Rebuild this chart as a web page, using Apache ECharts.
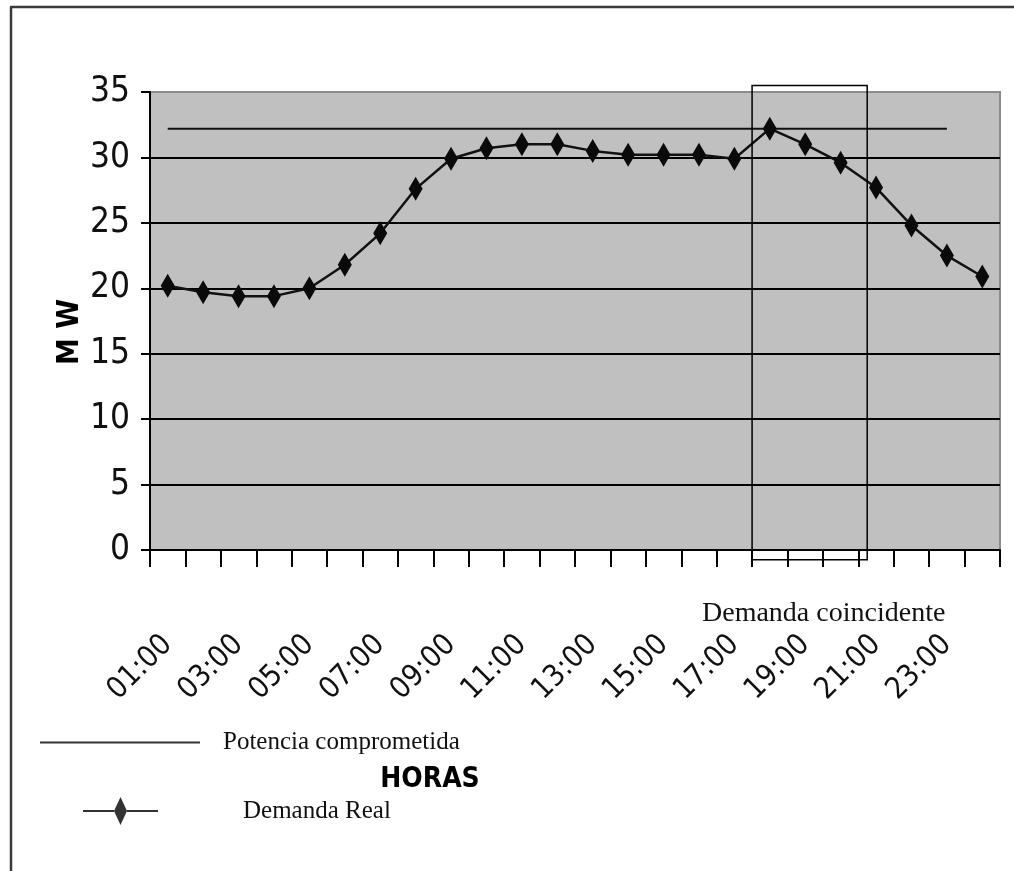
<!DOCTYPE html>
<html>
<head>
<meta charset="utf-8">
<script src="https://cdn.jsdelivr.net/npm/echarts@6/dist/echarts.min.js"></script>
<style>
  html, body { margin: 0; padding: 0; background: #fff; }
  #chart { width: 1014px; height: 871px; }
</style>
</head>
<body>
<div id="chart"></div>
<script>
// Hourly demand (MW) against the contracted power
const horas = ['01:00','02:00','03:00','04:00','05:00','06:00','07:00','08:00','09:00','10:00','11:00','12:00',
               '13:00','14:00','15:00','16:00','17:00','18:00','19:00','20:00','21:00','22:00','23:00','24:00'];
const demandaReal = [20.2, 19.7, 19.4, 19.4, 20.0, 21.8, 24.2, 27.6, 29.9, 30.7, 31.0, 31.0,
                     30.5, 30.2, 30.2, 30.2, 29.9, 32.2, 31.0, 29.6, 27.7, 24.8, 22.5, 20.9];
const potenciaComprometida = [32.2, 32.2, 32.2, 32.2, 32.2, 32.2, 32.2, 32.2, 32.2, 32.2, 32.2, 32.2,
                              32.2, 32.2, 32.2, 32.2, 32.2, 32.2, 32.2, 32.2, 32.2, 32.2, 32.2, null];
const yTicks = [0, 5, 10, 15, 20, 25, 30, 35];
// coincident-demand window: from 18:00 to 21:00
const ventanaInicio = 17, ventanaFin = 20;

const SANS = "'DejaVu Sans Condensed', 'DejaVu Sans', 'Liberation Sans', sans-serif";
const SERIF = "'Liberation Serif', 'Times New Roman', serif";

const chart = echarts.init(document.getElementById('chart'), null, { renderer: 'canvas' });

chart.setOption({
  animation: false,
  backgroundColor: '#ffffff',
  grid: {
    left: 150, right: 14, top: 92, bottom: 321,
    show: true, backgroundColor: '#c0c0c0', borderColor: '#8c8c8c', borderWidth: 2
  },
  legend: [
    {
      data: [{ name: 'Potencia comprometida', icon: 'rect' }],
      left: 40, top: 730, padding: 0, itemWidth: 160, itemHeight: 2,
      itemStyle: { color: '#333' },
      textStyle: { fontFamily: SERIF, fontSize: 25, color: '#111', padding: [0, 0, 0, 18] }
    },
    {
      data: [{
        name: 'Demanda Real',
        icon: 'path://M0,13 L31,13 L31,15 L0,15 Z M31,14 L37.5,0 L44,14 L37.5,28 Z M44,13 L75,13 L75,15 L44,15 Z'
      }],
      left: 83, top: 797, padding: 0, itemWidth: 75, itemHeight: 28,
      itemStyle: { color: '#333' },
      textStyle: { fontFamily: SERIF, fontSize: 25, color: '#111', padding: [0, 0, 0, 80] }
    }
  ],
  xAxis: {
    type: 'category',
    data: horas,
    boundaryGap: true,
    name: 'HORAS',
    nameLocation: 'middle',
    nameGap: 216,
    nameMoveOverlap: false,
    nameTextStyle: { fontFamily: SANS, fontWeight: 'bold', fontSize: 28, color: '#000', padding: [0, 290, 0, 0] },
    axisLine: { lineStyle: { color: '#000', width: 2 } },
    axisTick: { show: true, interval: 0, length: 17, lineStyle: { color: '#000', width: 2 } },
    axisLabel: {
      interval: 1, rotate: 45, margin: 90,
      fontFamily: SANS, fontSize: 30, color: '#111'
    },
    splitLine: { show: false }
  },
  yAxis: {
    type: 'value',
    min: yTicks[0], max: yTicks[yTicks.length - 1], interval: 5,
    name: 'M W',
    nameLocation: 'middle',
    nameRotate: 90,
    nameGap: 65,
    nameMoveOverlap: false,
    nameTextStyle: { fontFamily: SANS, fontWeight: 'bold', fontSize: 30, color: '#000', padding: [0, 22, 0, 0] },
    axisLine: { show: true, lineStyle: { color: '#000', width: 2 } },
    axisTick: { show: true, length: 9, lineStyle: { color: '#000', width: 2 } },
    axisLabel: { margin: 20, fontFamily: SANS, fontSize: 35, color: '#111' },
    splitLine: {
      show: true,
      lineStyle: { color: ['#000', '#000', '#000', '#000', '#000', '#000', '#000', '#8c8c8c'], width: 2 }
    }
  },
  series: [
    {
      name: 'Potencia comprometida',
      type: 'line',
      data: potenciaComprometida,
      showSymbol: false,
      symbol: 'none',
      lineStyle: { color: '#111', width: 2 },
      itemStyle: { color: '#333' },
      z: 3
    },
    {
      name: 'Demanda Real',
      type: 'line',
      data: demandaReal,
      symbol: 'diamond',
      symbolSize: [14, 24],
      showAllSymbol: true,
      lineStyle: { color: '#111', width: 2.5 },
      itemStyle: { color: '#0a0a0a' },
      z: 4
    }
  ]
});

// Coincident-demand box, placed through the axes
const p0 = chart.convertToPixel({ xAxisIndex: 0 }, 0);
const p1 = chart.convertToPixel({ xAxisIndex: 0 }, 1);
const banda = p1 - p0;
const xIzq = chart.convertToPixel({ xAxisIndex: 0 }, ventanaInicio) - banda / 2;
const xDer = chart.convertToPixel({ xAxisIndex: 0 }, ventanaFin) - banda * 0.25;
const yArr = chart.convertToPixel({ yAxisIndex: 0 }, 35.5);
const yAba = chart.convertToPixel({ yAxisIndex: 0 }, -0.75);

chart.setOption({
  graphic: [
    {
      type: 'rect', z: 10, silent: true,
      shape: { x: xIzq, y: yArr, width: xDer - xIzq, height: yAba - yArr },
      style: { fill: null, stroke: '#000', lineWidth: 1.5 }
    },
    {
      type: 'text', z: 10, left: 702, top: 600,
      style: { text: 'Demanda coincidente', font: '28px ' + SERIF, fill: '#111' }
    },
    // page frame (top and left edges)
    {
      type: 'line', z: 10, silent: true,
      shape: { x1: 10, y1: 7, x2: 1014, y2: 7 },
      style: { stroke: '#3a3a3a', lineWidth: 2.5 }
    },
    {
      type: 'line', z: 10, silent: true,
      shape: { x1: 11, y1: 7, x2: 11, y2: 871 },
      style: { stroke: '#3a3a3a', lineWidth: 2.5 }
    }
  ]
});
</script>
</body>
</html>
